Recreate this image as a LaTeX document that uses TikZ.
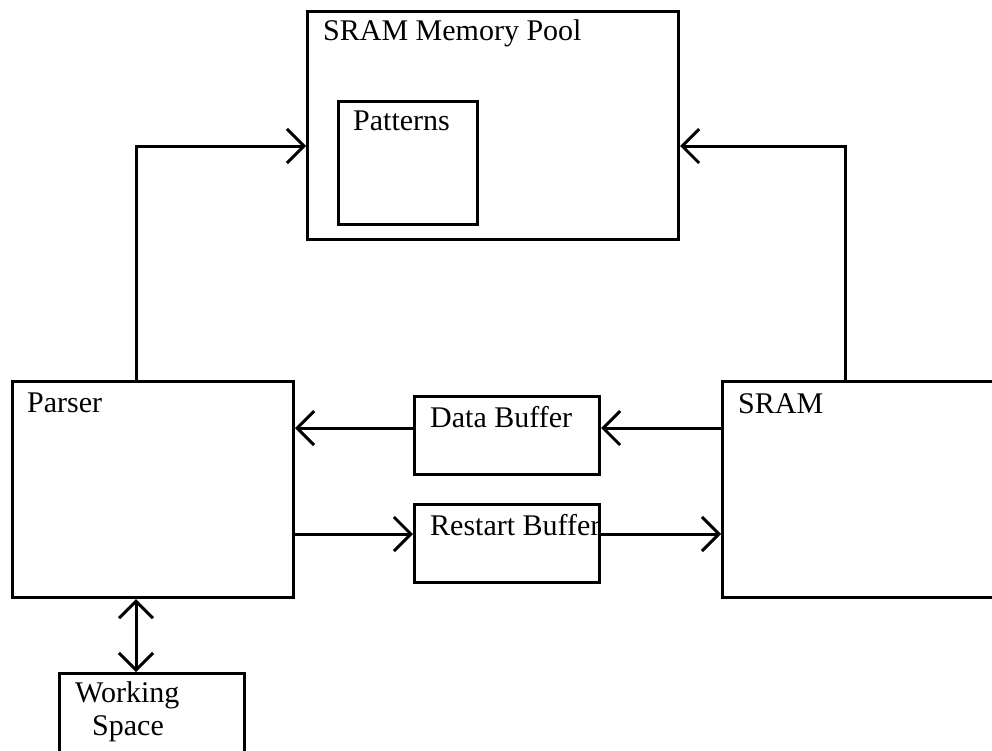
\documentclass[tikz,border=0pt]{standalone}
\usepackage{fontspec}
\setmainfont{Liberation Serif}
\usetikzlibrary{arrows.meta}
\begin{document}
\begin{tikzpicture}[x=1pt,y=-1pt,
  box/.style={draw=black,line width=3pt,rectangle,inner sep=0pt,anchor=north west},
  lbl/.style={anchor=base west,inner sep=0pt,font=\fontsize{30}{34}\selectfont},
  tip/.tip={Straight Barb[length=17pt,width=34pt,line width=3pt]},
  arr/.style={draw=black,line width=3pt,-tip},
  arrb/.style={draw=black,line width=3pt,tip-tip}]
\useasboundingbox (0,0) rectangle (992,750);
\fill[white] (0,0) rectangle (992,750);
% boxes
\node[box,minimum width=371pt,minimum height=228pt] (pool) at (306,10) {};
\node[box,minimum width=139pt,minimum height=123pt] (pat) at (337,100) {};
\node[box,minimum width=281pt,minimum height=216pt] (parser) at (11,380) {};
\node[box,minimum width=185pt,minimum height=78pt] (data) at (413,395) {};
\node[box,minimum width=185pt,minimum height=78pt] (restart) at (413,503) {};
\node[box,minimum width=300pt,minimum height=216pt] (sram) at (721,380) {};
\node[box,minimum width=185pt,minimum height=100pt] (work) at (58,672) {};
% labels
\node[lbl] (tpool) at (323,40) {SRAM Memory Pool};
\node[lbl] (tpat) at (353,130) {Patterns};
\node[lbl] (tparser) at (27,412) {Parser};
\node[lbl] (tdata) at (430,427) {Data Buffer};
\node[lbl] (trestart) at (430,535) {Restart Buffer};
\node[lbl] (tsram) at (738,413) {SRAM};
\node[lbl] (twork) at (75,702) {Working};
\node[lbl] (tspace) at (92,735) {Space};
% connectors
\draw[arr] ([xshift=125pt]parser.north west) |- ([yshift=-136pt]pool.north west);
\draw[arr] ([xshift=124pt]sram.north west) |- ([yshift=-136pt]pool.north east);
\draw[arr] ([yshift=-48pt]sram.north west) -- ([yshift=-33pt]data.north east);
\draw[arr] ([yshift=-33pt]data.north west) -- ([yshift=-48pt]parser.north east);
\draw[arr] ([yshift=-154pt]parser.north east) -- ([yshift=-31pt]restart.north west);
\draw[arr] ([yshift=-31pt]restart.north east) -- ([yshift=-154pt]sram.north west);
\draw[arrb] ([xshift=125pt]parser.south west) -- ([xshift=78pt]work.north west);
\end{tikzpicture}
\end{document}
